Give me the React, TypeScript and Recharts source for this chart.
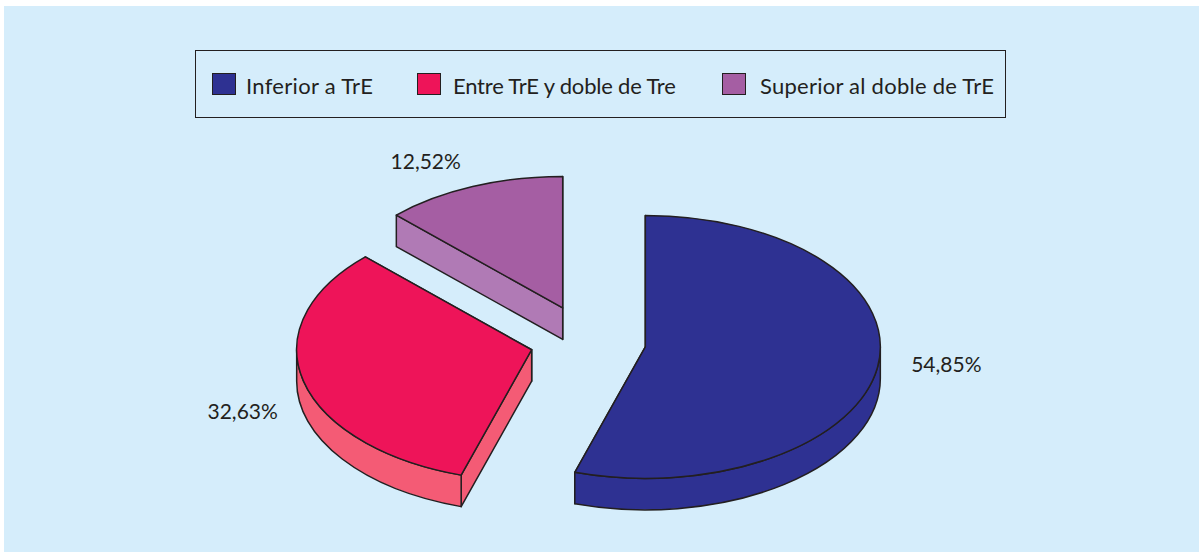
import { PieChart, Pie, Legend } from "recharts";

// values, in percent
const names = ["Inferior a TrE", "Entre TrE y doble de Tre", "Superior al doble de TrE"];
const shares = [54.85, 32.63, 12.52];
const topColors = ["#2E3192", "#EE1459", "#A55EA3"];
const sideColors = ["#2E3192", "#F45B75", "#B07AB5"];

// drawing layout of the fake 3D pie
const WIDTH = 1195;
const HEIGHT = 546;
const CX = 584;
const CY = 336;
const RADIUS = 235;
const SQUASH = 132 / 236;
const DEPTH = 31.5;
const explode = [58, 58, 66];
const labelOffsets = [[301, 17], [-289, 61], [-137, -147]];
const legendX = [16, 221, 526];
const legendTextX = [50, 257, 564];
const legendSpacing = [0.3, -0.2, 0.25];
const INK = "#231F20";

const chartData = names.map((name, i) => ({ name, value: shares[i], fill: topColors[i] }));

const rad = (deg: number) => (deg * Math.PI) / 180;

const apexOf = (cx: number, cy: number, midAngle: number, index: number) => ({
  x: cx + explode[index] * Math.cos(rad(midAngle)),
  y: cy - explode[index] * SQUASH * Math.sin(rad(midAngle)),
});

const SliceShape = (props: any) => {
  const { cx, cy, outerRadius, startAngle, endAngle } = props;
  const index = names.indexOf(props.name ?? props.payload?.name);
  const mid = (startAngle + endAngle) / 2;
  const apex = apexOf(cx, cy, mid, index);
  const rx = outerRadius;
  const ry = outerRadius * SQUASH;
  const at = (a: number, drop = 0) => ({
    x: apex.x + rx * Math.cos(rad(a)),
    y: apex.y - ry * Math.sin(rad(a)) + drop,
  });
  const s = at(startAngle);
  const e = at(endAngle);
  const large = Math.abs(startAngle - endAngle) > 180 ? 1 : 0;
  const top = `M${apex.x},${apex.y} L${s.x},${s.y} A${rx},${ry} 0 ${large} 1 ${e.x},${e.y} Z`;

  const wall = (p: { x: number; y: number }) =>
    `M${apex.x},${apex.y} L${p.x},${p.y} L${p.x},${p.y + DEPTH} L${apex.x},${apex.y + DEPTH} Z`;

  // outer rim only shows on the lower half of the ellipse
  const a1 = Math.min(startAngle, 0);
  const a2 = Math.max(endAngle, -180);
  let rim = null;
  if (a1 > a2) {
    const r1 = at(a1);
    const r2 = at(a2);
    const r3 = at(a2, DEPTH);
    const r4 = at(a1, DEPTH);
    rim = `M${r1.x},${r1.y} A${rx},${ry} 0 0 1 ${r2.x},${r2.y} L${r3.x},${r3.y} A${rx},${ry} 0 0 0 ${r4.x},${r4.y} Z`;
  }

  const side = sideColors[index];
  const line = { stroke: INK, strokeWidth: 1.5, strokeLinejoin: "round" as const };
  return (
    <g>
      <path d={wall(e)} fill={side} {...line} />
      <path d={wall(s)} fill={side} {...line} />
      {rim && <path d={rim} fill={side} {...line} />}
      <path d={top} fill={topColors[index]} {...line} />
    </g>
  );
};

const renderLabel = (props: any) => {
  const { cx, cy, midAngle, index, value } = props;
  const apex = apexOf(cx, cy, midAngle, index);
  return (
    <text
      x={apex.x + labelOffsets[index][0]}
      y={apex.y + labelOffsets[index][1]}
      textAnchor="middle"
      dominantBaseline="central"
      fontFamily="Lato"
      fontSize={21}
      fill={INK}
    >
      {value.toFixed(2).replace(".", ",")}%
    </text>
  );
};

const renderLegend = () => (
  <div
    style={{
      position: "relative",
      boxSizing: "border-box",
      width: 811,
      height: 68,
      border: `1.5px solid ${INK}`,
      fontFamily: "Lato",
      fontSize: 22,
      color: INK,
    }}
  >
    {names.map((name, i) => (
      <div key={name}>
        <div
          style={{
            position: "absolute",
            left: legendX[i],
            top: 22,
            width: 24,
            height: 22,
            boxSizing: "border-box",
            background: topColors[i],
            border: `1.5px solid ${INK}`,
          }}
        />
        <div
          style={{
            position: "absolute",
            left: legendTextX[i],
            top: 23,
            whiteSpace: "nowrap",
            lineHeight: "24px",
            letterSpacing: legendSpacing[i],
          }}
        >
          {name}
        </div>
      </div>
    ))}
  </div>
);

export default function App() {
  return (
    <div style={{ position: "absolute", left: 4, top: 6, width: WIDTH, height: HEIGHT, background: "#D5EDFB" }}>
      <PieChart width={WIDTH} height={HEIGHT} margin={{ top: 0, right: 0, bottom: 0, left: 0 }}>
        <Legend
          content={renderLegend}
          wrapperStyle={{ position: "absolute", left: 191, top: 44, bottom: "auto", width: 811, height: 68 }}
        />
        <Pie
          data={chartData}
          dataKey="value"
          nameKey="name"
          cx={CX}
          cy={CY}
          outerRadius={RADIUS}
          startAngle={90}
          endAngle={-270}
          shape={SliceShape}
          label={renderLabel}
          labelLine={false}
          isAnimationActive={false}
        />
      </PieChart>
    </div>
  );
}
